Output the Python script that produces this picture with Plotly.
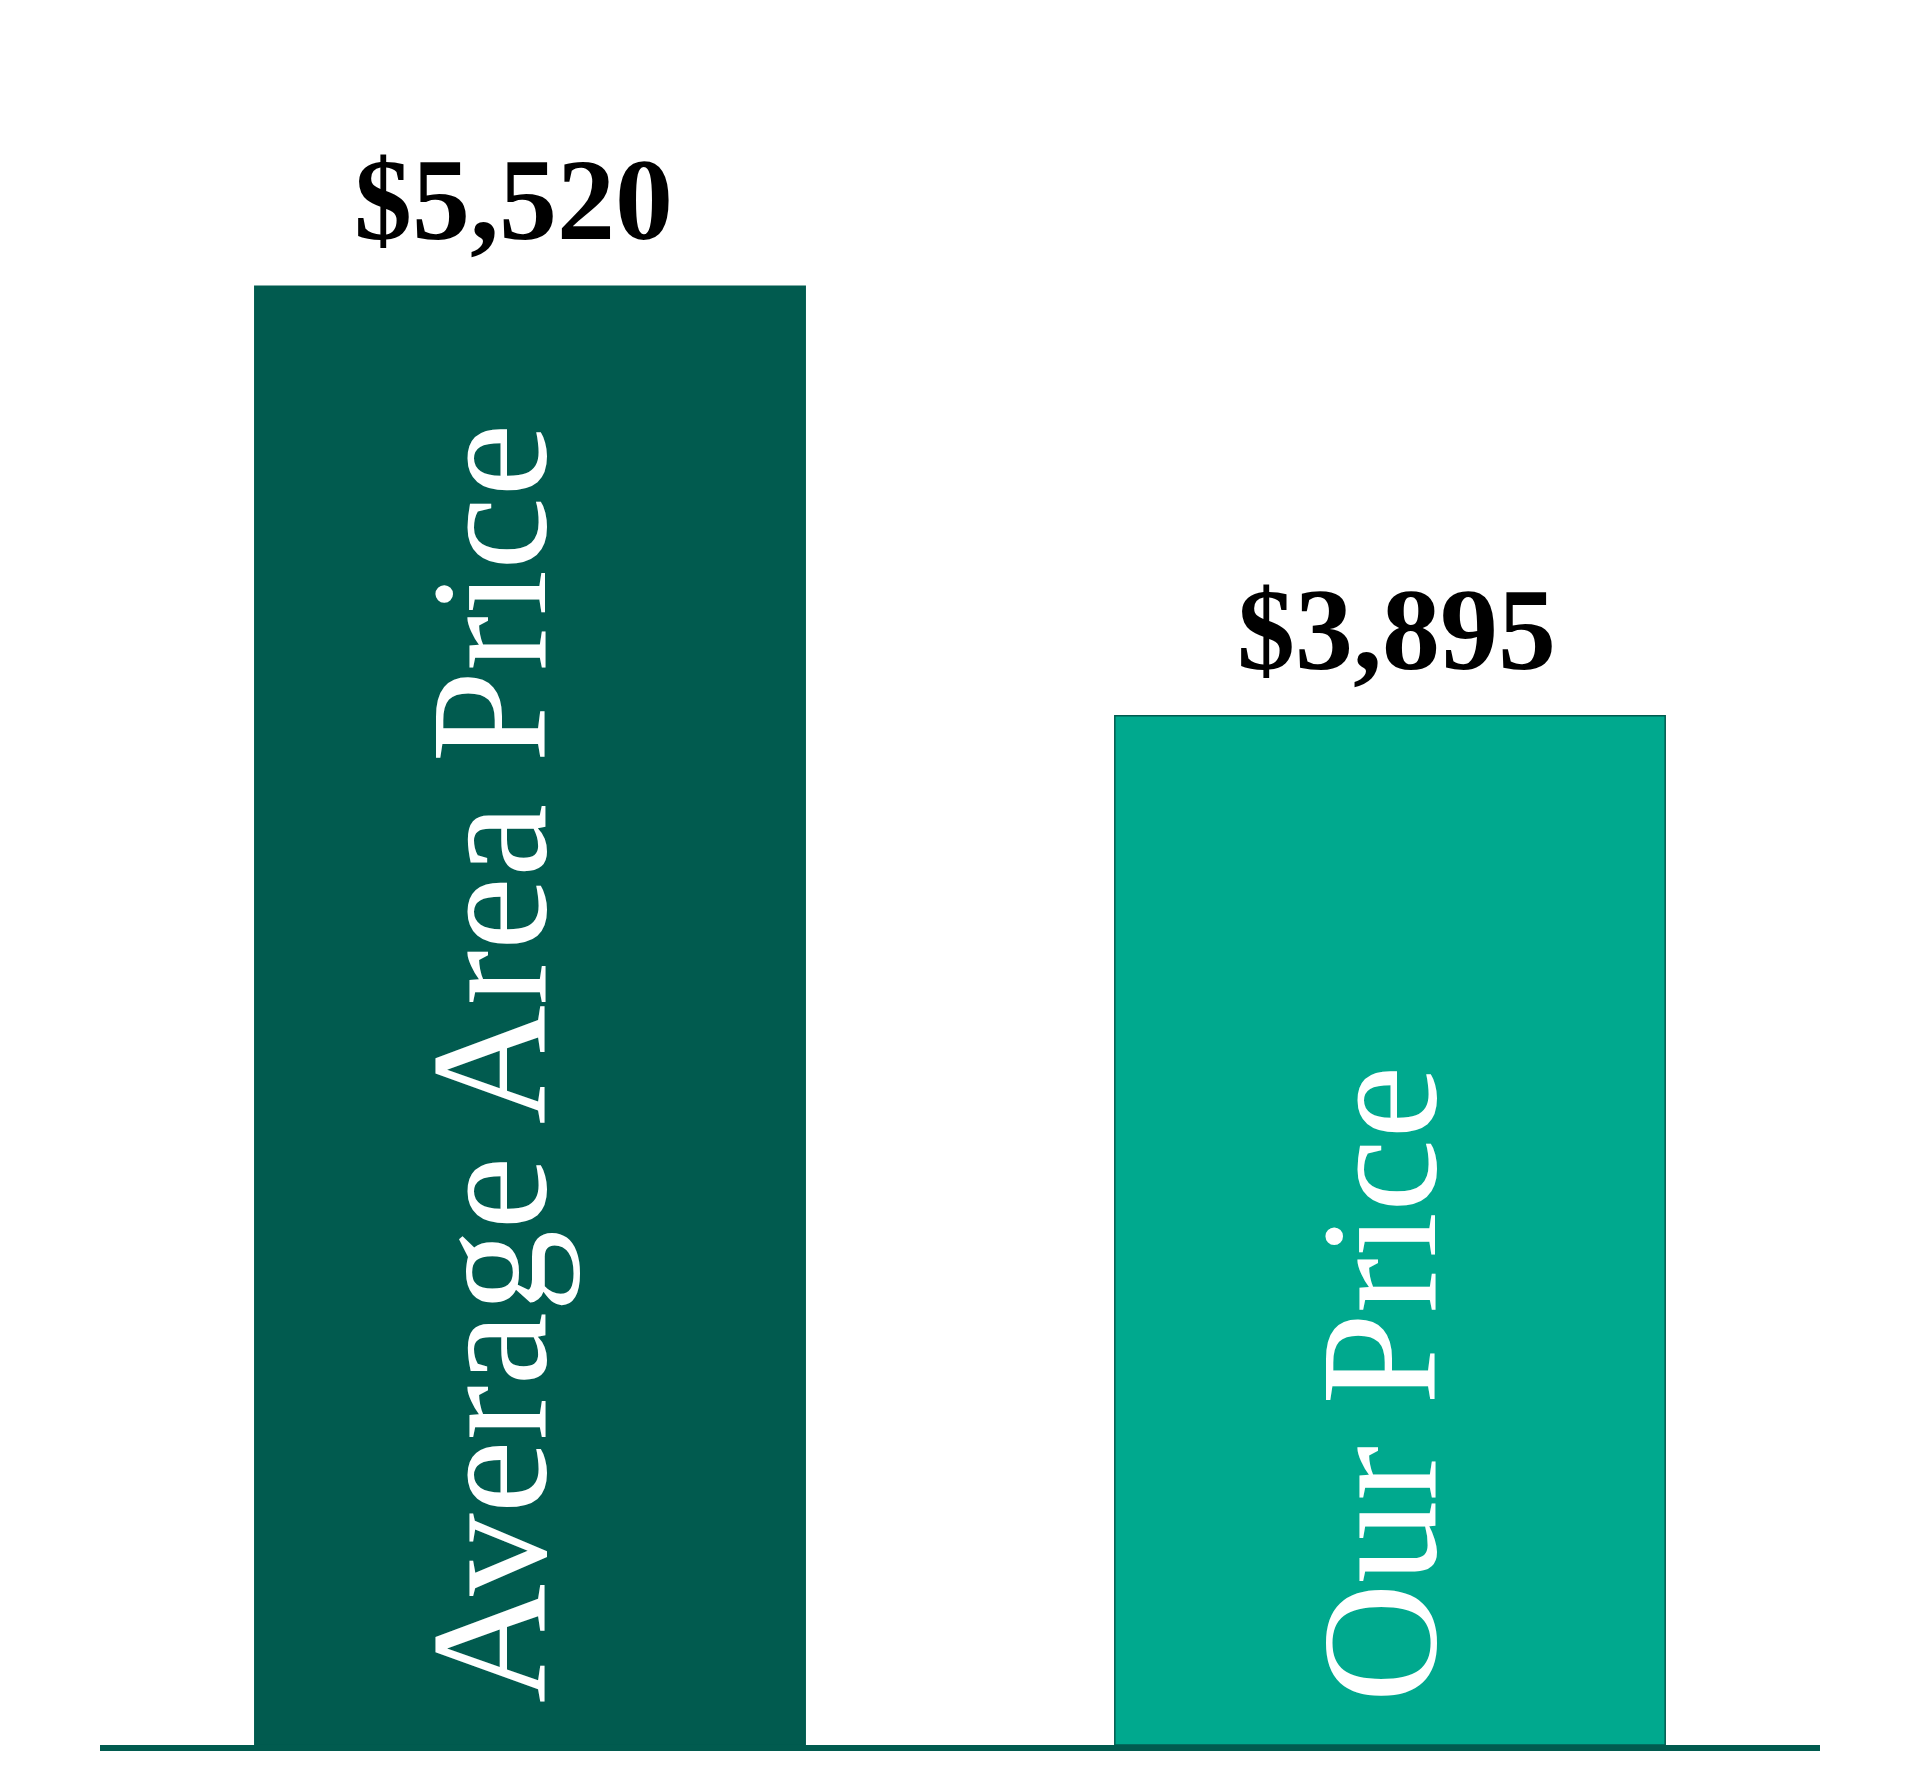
import plotly.graph_objects as go

# data
categories = ["Average Area Price", "Our Price"]
prices = [5520, 3895]
price_labels = ["$5,520", "$3,895"]
bar_colors = ["#015B4F", "#00A98E"]

SERIF = "Liberation Serif"
DARK = "#015B4F"

# small horizontal nudges (px) for labels
name_shift = [-41, -11]
value_shift = [-17, 6]

fig = go.Figure()

fig.add_trace(
    go.Bar(
        x=categories,
        y=prices,
        width=0.64,
        marker=dict(color=bar_colors, line=dict(color=DARK, width=1.5)),
        hoverinfo="skip",
        showlegend=False,
    )
)

# value labels above bars
for cat, val, lab, dx in zip(categories, prices, price_labels, value_shift):
    fig.add_annotation(
        x=cat, y=val, text=lab, showarrow=False,
        xanchor="center", yanchor="bottom", yshift=20, xshift=dx,
        font=dict(family=SERIF, size=116, color="black", weight="bold"),
    )

# rotated category names inside the bars
for cat, dx in zip(categories, name_shift):
    fig.add_annotation(
        x=cat, y=0, text=cat, showarrow=False, textangle=-90,
        xanchor="center", yanchor="bottom", yshift=40, xshift=dx,
        font=dict(family=SERIF, size=165, color="white"),
    )

fig.update_layout(
    width=1920, height=1792,
    margin=dict(l=92, r=108, t=92, b=55),
    paper_bgcolor="white",
    plot_bgcolor="white",
    xaxis=dict(
        showticklabels=False, showgrid=False, zeroline=False,
        showline=True, linecolor=DARK, linewidth=6, ticks="",
    ),
    yaxis=dict(
        range=[0, 6225], visible=False, showgrid=False, zeroline=False,
    ),
)

fig.write_html("out.html")
